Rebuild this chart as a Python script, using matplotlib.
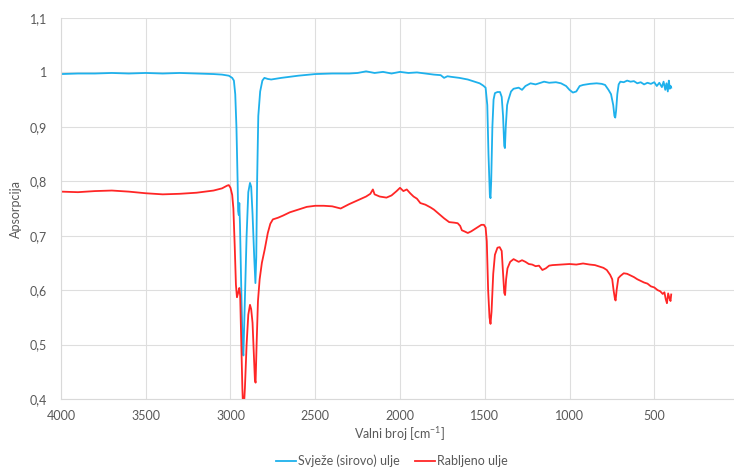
import matplotlib
matplotlib.use('Agg')
import matplotlib.pyplot as plt

plt.rcParams['font.family'] = ['Lato', 'DejaVu Sans']
plt.rcParams['mathtext.default'] = 'regular'

## fresh oil: wavenumber [cm-1], absorbance
fresh_wn = [4000, 3900, 3800, 3700, 3600, 3500, 3400, 3300, 3200, 3100, 3050, 3010, 2990, 2980,
            2972, 2965, 2958, 2955, 2951, 2948, 2944, 2935, 2928, 2924, 2918, 2905, 2895, 2885,
            2878, 2870, 2860, 2853, 2848, 2843, 2836, 2825, 2812, 2800, 2780, 2760, 2700, 2600,
            2500, 2400, 2300, 2250, 2200, 2150, 2100, 2050, 2000, 1950, 1900, 1850, 1800, 1760,
            1740, 1720, 1700, 1650, 1600, 1560, 1530, 1510, 1495, 1485, 1478, 1470, 1466, 1462,
            1455, 1448, 1440, 1425, 1410, 1400, 1392, 1385, 1381, 1376, 1368, 1360, 1345, 1330,
            1300, 1280, 1260, 1230, 1200, 1180, 1150, 1120, 1080, 1050, 1020, 1000, 980, 960,
            940, 920, 880, 840, 810, 790, 770, 755, 742, 735, 730, 725, 718, 710, 700, 680, 660,
            640, 620, 600, 580, 560, 540, 520, 500, 485, 470, 455, 445, 435, 428, 420, 414, 408,
            403, 400]
fresh_abs = [0.997, 0.998, 0.998, 0.999, 0.998, 0.999, 0.998, 0.999, 0.998, 0.997, 0.996, 0.994, 0.99, 0.985,
             0.96, 0.9, 0.8, 0.745, 0.738, 0.76, 0.72, 0.58, 0.49, 0.48, 0.55, 0.70, 0.78, 0.797,
             0.79, 0.74, 0.66, 0.613, 0.66, 0.80, 0.92, 0.965, 0.985, 0.99, 0.988, 0.987, 0.99, 0.994,
             0.997, 0.998, 0.998, 0.999, 1.002, 0.999, 1.001, 0.998, 1.001, 0.999, 1.0, 0.998, 0.996, 0.995,
             0.99, 0.993, 0.992, 0.99, 0.987, 0.983, 0.98, 0.976, 0.972, 0.94, 0.85, 0.775, 0.769, 0.80,
             0.90, 0.95, 0.962, 0.964, 0.964, 0.955, 0.92, 0.865, 0.861, 0.90, 0.94, 0.95, 0.965, 0.97,
             0.972, 0.968, 0.975, 0.98, 0.978, 0.98, 0.983, 0.981, 0.982, 0.98, 0.975, 0.968, 0.963, 0.965,
             0.975, 0.977, 0.979, 0.98, 0.979, 0.977, 0.968, 0.96, 0.94, 0.92, 0.917, 0.93, 0.96, 0.978, 0.983, 0.982, 0.985,
             0.983, 0.984, 0.980, 0.982, 0.978, 0.981, 0.979, 0.982, 0.975, 0.981, 0.973, 0.983, 0.968, 0.98, 0.965, 0.985, 0.97,
             0.975, 0.972]

## used oil
used_wn = [4000, 3900, 3800, 3700, 3650, 3600, 3500, 3400, 3300, 3200, 3100, 3050, 3020, 3010,
           3000, 2990, 2983, 2975, 2968, 2962, 2955, 2948, 2943, 2936, 2930, 2926, 2921, 2915,
           2905, 2895, 2885, 2878, 2870, 2862, 2856, 2852, 2846, 2838, 2828, 2815, 2798, 2780,
           2765, 2750, 2720, 2690, 2650, 2600, 2550, 2500, 2450, 2400, 2350, 2300, 2250, 2200,
           2175, 2160, 2150, 2120, 2080, 2050, 2020, 2000, 1980, 1960, 1940, 1920, 1900, 1880,
           1850, 1820, 1800, 1770, 1740, 1710, 1680, 1660, 1645, 1635, 1620, 1600, 1580, 1550,
           1520, 1505, 1495, 1488, 1480, 1472, 1466, 1460, 1450, 1440, 1425, 1412, 1400, 1392,
           1385, 1380, 1374, 1366, 1350, 1330, 1300, 1280, 1260, 1240, 1220, 1200, 1180, 1160,
           1140, 1120, 1100, 1050, 1000, 960, 920, 880, 850, 820, 800, 780, 760, 748, 740, 732,
           728, 722, 712, 700, 680, 660, 640, 620, 600, 580, 560, 540, 520, 500, 480, 465, 450,
           440, 432, 425, 418, 410, 404, 400]
used_abs = [0.781, 0.780, 0.782, 0.783, 0.782, 0.781, 0.778, 0.776, 0.777, 0.779, 0.783, 0.787, 0.792, 0.793,
            0.788, 0.775, 0.75, 0.68, 0.61, 0.587, 0.595, 0.604, 0.59, 0.50, 0.42, 0.385, 0.385, 0.42,
            0.50, 0.555, 0.573, 0.565, 0.54, 0.48, 0.435, 0.43, 0.50, 0.58, 0.62, 0.65, 0.675, 0.705,
            0.722, 0.73, 0.733, 0.737, 0.743, 0.748, 0.753, 0.755, 0.755, 0.754, 0.750, 0.758, 0.765, 0.772,
            0.777, 0.785, 0.776, 0.772, 0.77, 0.774, 0.782, 0.788, 0.782, 0.785, 0.778, 0.772, 0.768, 0.76,
            0.757, 0.752, 0.748, 0.74, 0.732, 0.725, 0.724, 0.723, 0.718, 0.71, 0.708, 0.705, 0.708, 0.714,
            0.72, 0.72, 0.715, 0.69, 0.60, 0.55, 0.538, 0.56, 0.63, 0.665, 0.678, 0.679, 0.672, 0.63,
            0.595, 0.591, 0.62, 0.64, 0.652, 0.657, 0.652, 0.655, 0.652, 0.648, 0.647, 0.644, 0.645, 0.637,
            0.64, 0.645, 0.646, 0.647, 0.648, 0.647, 0.649, 0.647, 0.646, 0.643, 0.641, 0.637, 0.628, 0.62, 0.60, 0.584,
            0.581, 0.60, 0.622, 0.626, 0.631, 0.63, 0.627, 0.624, 0.62, 0.617, 0.614, 0.612, 0.607, 0.605, 0.60, 0.598, 0.593,
            0.596, 0.583, 0.576, 0.594, 0.585, 0.58, 0.592]

x_ticks = [4000, 3500, 3000, 2500, 2000, 1500, 1000, 500, 0]
x_labels = ['4000', '3500', '3000', '2500', '2000', '1500', '1000', '500', '']
y_ticks = [0.4, 0.5, 0.6, 0.7, 0.8, 0.9, 1.0, 1.1]
y_labels = ['0,4', '0,5', '0,6', '0,7', '0,8', '0,9', '1', '1,1']

fig = plt.figure(figsize=(7.34, 4.68), dpi=100)
ax = fig.add_axes([61/734, 1 - 399/468, 678/734, 381/468])

ax.plot(fresh_wn, fresh_abs, color='#1EB1EC', lw=1.3, label='Svježe (sirovo) ulje')
ax.plot(used_wn, used_abs, color='#FF2626', lw=1.3, label='Rabljeno ulje')

ax.set_xlim(4000, 0)
ax.set_ylim(0.4, 1.1)
ax.set_xticks(x_ticks)
ax.set_xticklabels(x_labels)
ax.set_yticks(y_ticks)
ax.set_yticklabels(y_labels)
ax.tick_params(length=0, colors='#595959', labelsize=9)
ax.tick_params(axis='x', pad=8)
ax.tick_params(axis='y', pad=10)
ax.grid(True, color='#dedede', lw=0.8)
ax.set_axisbelow(True)
for s in ['top', 'right']:
    ax.spines[s].set_visible(False)
for s in ['left', 'bottom']:
    ax.spines[s].set_color('#d9d9d9')

ax.set_xlabel('Valni broj [cm$^{-1}$]', color='#595959', fontsize=9)
ax.xaxis.set_label_coords(0.5, -0.068)
ax.set_ylabel('Apsorpcija', color='#595959', fontsize=9)
ax.yaxis.set_label_coords(-0.057, 0.5)

fig.legend(loc='center', bbox_to_anchor=(392/734, 1 - 461/468), ncol=2, frameon=False,
           fontsize=9, handlelength=1.6, handletextpad=0.15, columnspacing=1.2, labelcolor='#595959')

fig.savefig('out.png', dpi=100)
